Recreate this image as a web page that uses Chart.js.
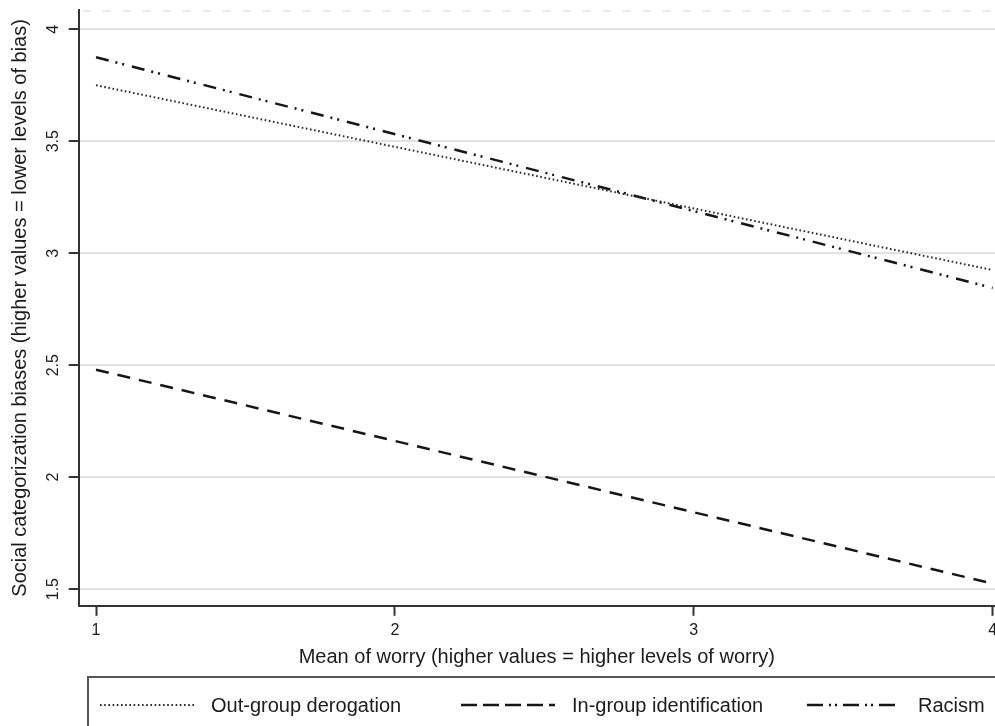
<!DOCTYPE html>
<html>
<head>
<meta charset="utf-8">
<script src="https://cdn.jsdelivr.net/npm/chart.js@4"></script>
<style>
  html, body { margin: 0; padding: 0; background: #fff; }
  canvas { display: block; }
</style>
</head>
<body>
<canvas id="chart" width="995" height="726"></canvas>
<script>
// данные
const worry = [1, 4];
const outGroup = [3.75, 2.925];
const inGroup = [2.48, 1.525];
const racism = [3.875, 2.845];
const seriesNames = ["Out-group derogation", "In-group identification", "Racism"];
const xTicks = [1, 2, 3, 4];
const yTicks = [1.5, 2, 2.5, 3, 3.5, 4];

const FONT = "'Liberation Sans', Arial, Helvetica, sans-serif";
const INK = '#1c1c1c';

function points(ys) {
  return worry.map((x, i) => ({ x: x, y: ys[i] }));
}

// легенда в рамке, как в Stata
const boxLegend = {
  id: 'boxLegend',
  afterDraw(chart, args, opts) {
    const ctx = chart.ctx;
    ctx.save();
    // верхняя пунктирная линия области графика
    const ca = chart.chartArea;
    ctx.strokeStyle = '#e4e4e4';
    ctx.lineWidth = 1.5;
    ctx.setLineDash([8, 12]);
    ctx.beginPath();
    ctx.moveTo(ca.left + 4, ca.top + 1);
    ctx.lineTo(ca.right, ca.top + 1);
    ctx.stroke();

    ctx.setLineDash([]);
    ctx.strokeStyle = '#555';
    ctx.lineWidth = 2;
    ctx.strokeRect(opts.left, opts.top, chart.width, 80);

    const cy = opts.top + 28;
    ctx.font = '20px ' + FONT;
    ctx.textBaseline = 'middle';
    ctx.textAlign = 'left';
    chart.data.datasets.forEach((ds, i) => {
      const x0 = opts.starts[i];
      ctx.strokeStyle = ds.borderColor;
      ctx.lineWidth = ds.borderWidth;
      ctx.setLineDash(ds.legendDash || ds.borderDash || []);
      ctx.beginPath();
      ctx.moveTo(x0, cy);
      ctx.lineTo(x0 + opts.sample, cy);
      ctx.stroke();
      ctx.setLineDash([]);
      ctx.fillStyle = INK;
      ctx.fillText(ds.label, x0 + opts.sample + opts.gap, cy + 1);
    });
    ctx.restore();
  }
};

new Chart(document.getElementById('chart'), {
  type: 'line',
  data: {
    datasets: [
      {
        label: seriesNames[0],
        data: points(outGroup),
        borderColor: '#2a2a2a',
        borderWidth: 2,
        borderDash: [1.6, 2.6],
        legendDash: [1.6, 2.6]
      },
      {
        label: seriesNames[1],
        data: points(inGroup),
        borderColor: '#161616',
        borderWidth: 2.5,
        borderDash: [13, 9],
        legendDash: [16, 6]
      },
      {
        label: seriesNames[2],
        data: points(racism),
        borderColor: '#161616',
        borderWidth: 2.5,
        borderDash: [13, 7, 2, 5, 2, 8],
        legendDash: [16, 6, 2, 4, 2, 6]
      }
    ]
  },
  options: {
    responsive: false,
    animation: false,
    layout: { padding: { top: 10, right: 0, bottom: 57, left: 0 } },
    elements: { point: { radius: 0 }, line: { tension: 0 } },
    plugins: {
      legend: { display: false },
      tooltip: { enabled: false },
      boxLegend: { left: 88, top: 677, sample: 94, gap: 17, starts: [100, 461, 807] }
    },
    scales: {
      x: {
        type: 'linear',
        min: 0.942,
        max: 4.008,
        afterBuildTicks: s => { s.ticks = xTicks.map(v => ({ value: v })); },
        afterFit: s => { s.paddingRight = 0; s.paddingLeft = 0; },
        border: { color: '#333', width: 2 },
        grid: { drawOnChartArea: false, drawTicks: true, tickLength: 10, tickColor: '#333', tickWidth: 2 },
        ticks: {
          color: INK, padding: 5, maxRotation: 0,
          font: { family: FONT, size: 16 },
          callback: v => String(v)
        },
        title: {
          display: true,
          text: 'Mean of worry (higher values = higher levels of worry)',
          color: INK,
          font: { family: FONT, size: 20 },
          padding: { top: 0, bottom: 0 }
        }
      },
      y: {
        type: 'linear',
        min: 1.4256,
        max: 4.086,
        afterBuildTicks: s => { s.ticks = yTicks.map(v => ({ value: v })); },
        afterFit: s => { s.paddingTop = 0; s.paddingBottom = 0; },
        border: { color: '#333', width: 2 },
        grid: { color: '#e2e2e2', lineWidth: 2, drawTicks: true, tickLength: 10, tickColor: '#333', tickWidth: 2 },
        ticks: {
          color: INK, padding: 3.5, minRotation: 90, maxRotation: 90, crossAlign: 'center',
          font: { family: FONT, size: 16 },
          callback: v => String(v)
        },
        title: {
          display: true,
          text: 'Social categorization biases (higher values = lower levels of bias)',
          color: INK,
          font: { family: FONT, size: 20 },
          padding: { top: 8, bottom: 10.5 }
        }
      }
    }
  },
  plugins: [boxLegend]
});
</script>
</body>
</html>
